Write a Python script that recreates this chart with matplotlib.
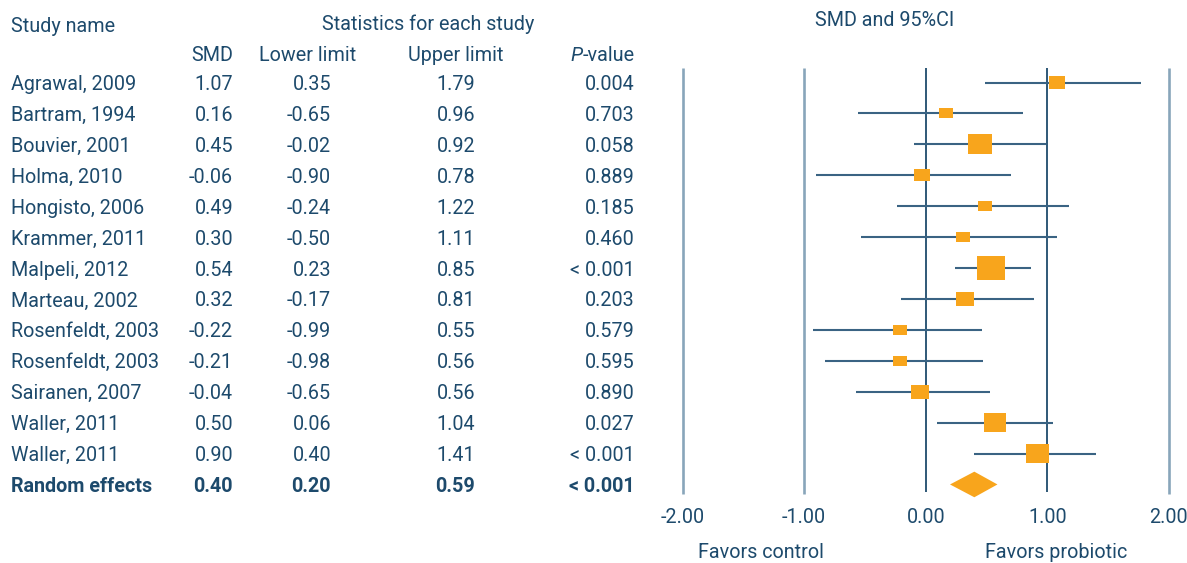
import matplotlib
matplotlib.use("Agg")
import matplotlib.pyplot as plt
from matplotlib import transforms
from matplotlib.patches import Rectangle, Polygon

# ---------------- data ----------------
studies = ["Agrawal, 2009", "Bartram, 1994", "Bouvier, 2001", "Holma, 2010",
           "Hongisto, 2006", "Krammer, 2011", "Malpeli, 2012", "Marteau, 2002",
           "Rosenfeldt, 2003", "Rosenfeldt, 2003", "Sairanen, 2007",
           "Waller, 2011", "Waller, 2011"]
smd = [1.07, 0.16, 0.45, -0.06, 0.49, 0.30, 0.54, 0.32, -0.22, -0.21, -0.04, 0.50, 0.90]
lower = [0.35, -0.65, -0.02, -0.90, -0.24, -0.50, 0.23, -0.17, -0.99, -0.98, -0.65, 0.06, 0.40]
upper = [1.79, 0.96, 0.92, 0.78, 1.22, 1.11, 0.85, 0.81, 0.55, 0.56, 0.56, 1.04, 1.41]
p_values = ["0.004", "0.703", "0.058", "0.889", "0.185", "0.460", "< 0.001",
            "0.203", "0.579", "0.595", "0.890", "0.027", "< 0.001"]

pooled_label = "Random effects"
pooled_smd = 0.40
pooled_lower = 0.20
pooled_upper = 0.59
pooled_p = "< 0.001"

# point estimates and CI ends as drawn in the graphic
plot_est = [1.08, 0.17, 0.45, -0.03, 0.49, 0.31, 0.54, 0.32, -0.21, -0.21, -0.05, 0.57, 0.92]
plot_low = [0.49, -0.56, -0.10, -0.90, -0.24, -0.53, 0.24, -0.20, -0.93, -0.83, -0.57, 0.09, 0.40]
plot_high = [1.77, 0.80, 0.99, 0.70, 1.18, 1.08, 0.87, 0.89, 0.46, 0.47, 0.53, 1.05, 1.40]
# relative study weights (%) -> box size
weight = [6.8, 5.9, 10.2, 6.8, 5.9, 5.9, 11.9, 7.6, 5.9, 5.9, 7.6, 9.7, 9.7]

ticks = [-2, -1, 0, 1, 2]
tick_labels = ["-2.00", "-1.00", "0.00", "1.00", "2.00"]
favors_left = "Favors control"
favors_right = "Favors probiotic"

# ---------------- style ----------------
W, H, DPI = 1187, 563, 100
TXT = "#1d4a6c"
ORANGE = "#F8A51C"
LIGHT = "#88a5ba"
DARK = "#1f4b6c"
CI = "#3a6383"
FONT = "Roboto"
FS = 14.2

plt.rcParams["font.family"] = [FONT, "DejaVu Sans"]

fig = plt.figure(figsize=(W / DPI, H / DPI), dpi=DPI)
fig.patch.set_facecolor("white")

px_per_unit = 121.6
zero_px = 925.7
row0_px = 82.5
px_per_row = 30.92
ax_top_px, ax_bot_px = 40, 500
x_lo, x_hi = -2.1, 2.1
left_px = zero_px + x_lo * px_per_unit
ax = fig.add_axes([left_px / W, 1 - ax_bot_px / H,
                   (x_hi - x_lo) * px_per_unit / W, (ax_bot_px - ax_top_px) / H])
ax.set_xlim(x_lo, x_hi)
ax.set_ylim((ax_bot_px - row0_px) / px_per_row, (ax_top_px - row0_px) / px_per_row)
for s in ax.spines.values():
    s.set_visible(False)
ax.set_yticks([])
ax.set_xticks(ticks, tick_labels)
ax.tick_params(axis="x", length=0, pad=5.5, labelsize=FS, labelcolor=TXT)
ax.patch.set_alpha(0)

n = len(studies)
rows = list(range(n))
pooled_row = n

# reference lines
y_top = (68 - row0_px) / px_per_row
y_bot = (494 - row0_px) / px_per_row
for t in ticks:
    if t in (0, 1):
        ax.vlines(t, y_top, y_bot - 0.05, colors=DARK, lw=1.3, zorder=1)
    else:
        ax.vlines(t, y_top, y_bot, colors=LIGHT, lw=1.9, zorder=1)

# study CIs and boxes
ax.hlines(rows, plot_low, plot_high, colors=CI, lw=1.5, zorder=2)
for r, e, w in zip(rows, plot_est, weight):
    wpx = w * 2.36
    hpx = wpx - 4
    bw = wpx / px_per_unit
    bh = hpx / px_per_row
    ax.add_patch(Rectangle((e - bw / 2, r - bh / 2), bw, bh,
                           facecolor=ORANGE, edgecolor="none", zorder=3))

# pooled diamond
dh = 12.8 / px_per_row
ax.add_patch(Polygon([(pooled_lower, pooled_row), (pooled_smd, pooled_row - dh),
                      (pooled_upper, pooled_row), (pooled_smd, pooled_row + dh)],
                     closed=True, facecolor=ORANGE, edgecolor="none", zorder=3))

# ---------------- table text ----------------
tr = transforms.blended_transform_factory(fig.transFigure, ax.transData) + \
    transforms.ScaledTranslation(0, -7.5 / DPI, fig.dpi_scale_trans)

col_name = 11 / W
col_smd = 233 / W
col_low = 331 / W
col_up = 475 / W
col_p = 635 / W

def row_text(r, name, a, b, c, p, bold=False):
    fw = "bold" if bold else "normal"
    kw = dict(transform=tr, va="baseline", fontsize=FS, color=TXT, fontweight=fw)
    ax.text(col_name, r, name, ha="left", **kw)
    ax.text(col_smd, r, f"{a:.2f}", ha="right", **kw)
    ax.text(col_low, r, f"{b:.2f}", ha="right", **kw)
    ax.text(col_up, r, f"{c:.2f}", ha="right", **kw)
    ax.text(col_p, r, p, ha="right", **kw)

for r in rows:
    row_text(r, studies[r], smd[r], lower[r], upper[r], p_values[r])
row_text(pooled_row, pooled_label, pooled_smd, pooled_lower, pooled_upper, pooled_p, bold=True)

# headers
def ftext(xpx, ybase_px, s, ha="left", **kw):
    return fig.text(xpx / W, 1 - ybase_px / H, s, ha=ha, va="baseline",
                    fontsize=FS, color=TXT, **kw)

ftext(11, 32, "Study name")
ftext(428, 30, "Statistics for each study", ha="center")
ftext(885, 26.5, "SMD and 95%CI", ha="center")
ftext(233, 61, "SMD", ha="right")
ftext(308, 61, "Lower limit", ha="center")
ftext(455.5, 61, "Upper limit", ha="center")
tv = ftext(635, 61, "-value", ha="right")
fig.canvas.draw()
bb = tv.get_window_extent(fig.canvas.get_renderer())
ftext(bb.x0, 61, "P", ha="right", style="italic")

ftext(761, 558, favors_left, ha="center")
ftext(1056, 558, favors_right, ha="center")

fig.savefig("out.png", dpi=DPI, facecolor="white")
